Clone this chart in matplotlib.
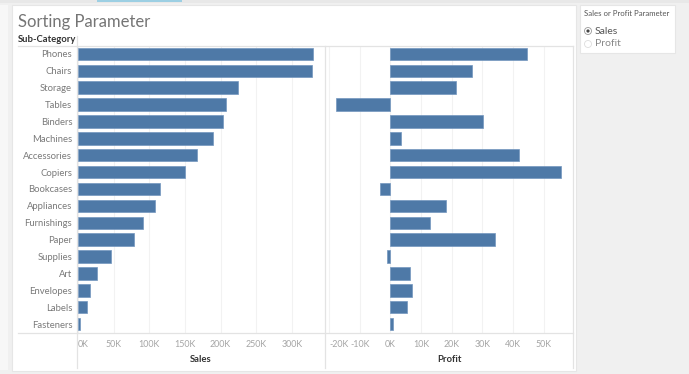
import matplotlib
matplotlib.use('Agg')
import matplotlib.pyplot as plt
from matplotlib.patches import Rectangle, Ellipse
from matplotlib.lines import Line2D

sub_categories = ['Phones', 'Chairs', 'Storage', 'Tables', 'Binders', 'Machines',
                  'Accessories', 'Copiers', 'Bookcases', 'Appliances', 'Furnishings',
                  'Paper', 'Supplies', 'Art', 'Envelopes', 'Labels', 'Fasteners']
sales = [330007, 328449, 223844, 206966, 203413, 189239, 167380, 149528, 114880,
         107532, 91705, 78479, 46674, 27119, 16476, 12486, 3024]
profit = [44516, 26590, 21279, -17725, 30222, 3385, 41937, 55618, -3473,
          18138, 13059, 34054, -1189, 6528, 6964, 5546, 950]

sales_ticks = [0, 50000, 100000, 150000, 200000, 250000, 300000]
sales_tick_labels = ['0K', '50K', '100K', '150K', '200K', '250K', '300K']
profit_ticks = [-20000, -10000, 0, 10000, 20000, 30000, 40000, 50000]
profit_tick_labels = ['-20K', '-10K', '0K', '10K', '20K', '30K', '40K', '50K']

W, H = 689, 374
plt.rcParams['font.family'] = ['Lato', 'DejaVu Sans']

BAR = '#4e79a7'
LINE = '#e3e3e3'

fig = plt.figure(figsize=(W / 100, H / 100), dpi=100, facecolor='#f0f0f0')


def fx(px):
    return px / W


def fy(py):
    return 1 - py / H


def rect(x0, y0, x1, y1, **kw):
    fig.add_artist(Rectangle((fx(x0), fy(y1)), fx(x1) - fx(x0), fy(y0) - fy(y1),
                             transform=fig.transFigure, **kw))


def line(x0, y0, x1, y1, color=LINE, lw=0.9, z=5):
    fig.add_artist(Line2D([fx(x0), fx(x1)], [fy(y0), fy(y1)], color=color, lw=lw,
                          transform=fig.transFigure, zorder=z))


def dot(x, y, d, **kw):
    fig.add_artist(Ellipse((fx(x), fy(y)), d / W, d / H, transform=fig.transFigure, **kw))


# dashboard background pieces
rect(0, 0, W, 3, facecolor='#e8e8e8', edgecolor='none', zorder=-3)
rect(97, 0, 182, 2, facecolor='#9ccfe3', edgecolor='none', zorder=-2)
rect(0, 5, 8, 370, facecolor='#f7f7f7', edgecolor='none', zorder=-3)
rect(12, 5, 576, 371, facecolor='white', edgecolor='#e6e6e6', lw=0.8, zorder=-2)
rect(580, 5, 675, 53, facecolor='white', edgecolor='#e6e6e6', lw=0.8, zorder=-2)

# title and headers
fig.text(fx(18), fy(22), 'Sorting Parameter', size=12, color='#757575', va='center')
fig.text(fx(18), fy(40), 'Sub-Category', size=6.8, color='#333333', va='center',
         fontweight='bold')

# parameter control
fig.text(fx(584), fy(14), 'Sales or Profit Parameter', size=5.6, color='#555555',
         va='center')
dot(588, 31, 7, facecolor='white', edgecolor='#999999', lw=0.6)
dot(588, 31, 3.2, facecolor='#444444', edgecolor='none')
dot(588, 44, 7, facecolor='white', edgecolor='#dddddd', lw=0.6)
fig.text(fx(595), fy(31), 'Sales', size=7.5, color='#555555', va='center')
fig.text(fx(595), fy(44), 'Profit', size=7.5, color='#888888', va='center')

# grid frame lines
line(18, 46, 573, 46)
line(18, 333, 573, 333)
line(77, 36, 77, 368)
line(325, 46, 325, 368)
line(573, 46, 573, 368)

top, bottom = 46, 333
ax_sales = fig.add_axes([fx(77), fy(bottom), fx(325) - fx(77), fy(top) - fy(bottom)])
ax_profit = fig.add_axes([fx(325), fy(bottom), fx(573) - fx(325), fy(top) - fy(bottom)])

rows = range(len(sub_categories))
ax_sales.barh(rows, sales, height=0.74, color=BAR, edgecolor='#7396bf', lw=0.5, zorder=3)
ax_profit.barh(rows, profit, height=0.74, color=BAR, edgecolor='#7396bf', lw=0.5, zorder=3)

ax_sales.set_xlim(-1400, 346500)
ax_profit.set_xlim(-21300, 59500)

for ax, ticks, labels in [(ax_sales, sales_ticks, sales_tick_labels),
                          (ax_profit, profit_ticks, profit_tick_labels)]:
    ax.set_facecolor('none')
    ax.set_ylim(16.53, -0.47)
    for s in ax.spines.values():
        s.set_visible(False)
    ax.set_xticks(ticks)
    ax.set_xticklabels(labels, size=6.4, color='#a5a5a5')
    ax.tick_params(axis='x', length=0, pad=5)
    ax.grid(axis='x', color='#f2f2f2', lw=0.8, zorder=0)
    ax.set_axisbelow(True)
    ax.get_xticklabels()[0].set_horizontalalignment('left')

ax_sales.set_yticks(list(rows))
ax_sales.set_yticklabels(sub_categories, size=6.8, color='#7a7a7a')
ax_sales.tick_params(axis='y', length=0, pad=3.5)
ax_profit.set_yticks([])

fig.text(fx(201), fy(359), 'Sales', size=6.8, color='#333333', ha='center', va='center',
         fontweight='bold')
fig.text(fx(449), fy(359), 'Profit', size=6.8, color='#333333', ha='center', va='center',
         fontweight='bold')

fig.savefig('out.png', dpi=100, facecolor=fig.get_facecolor())
